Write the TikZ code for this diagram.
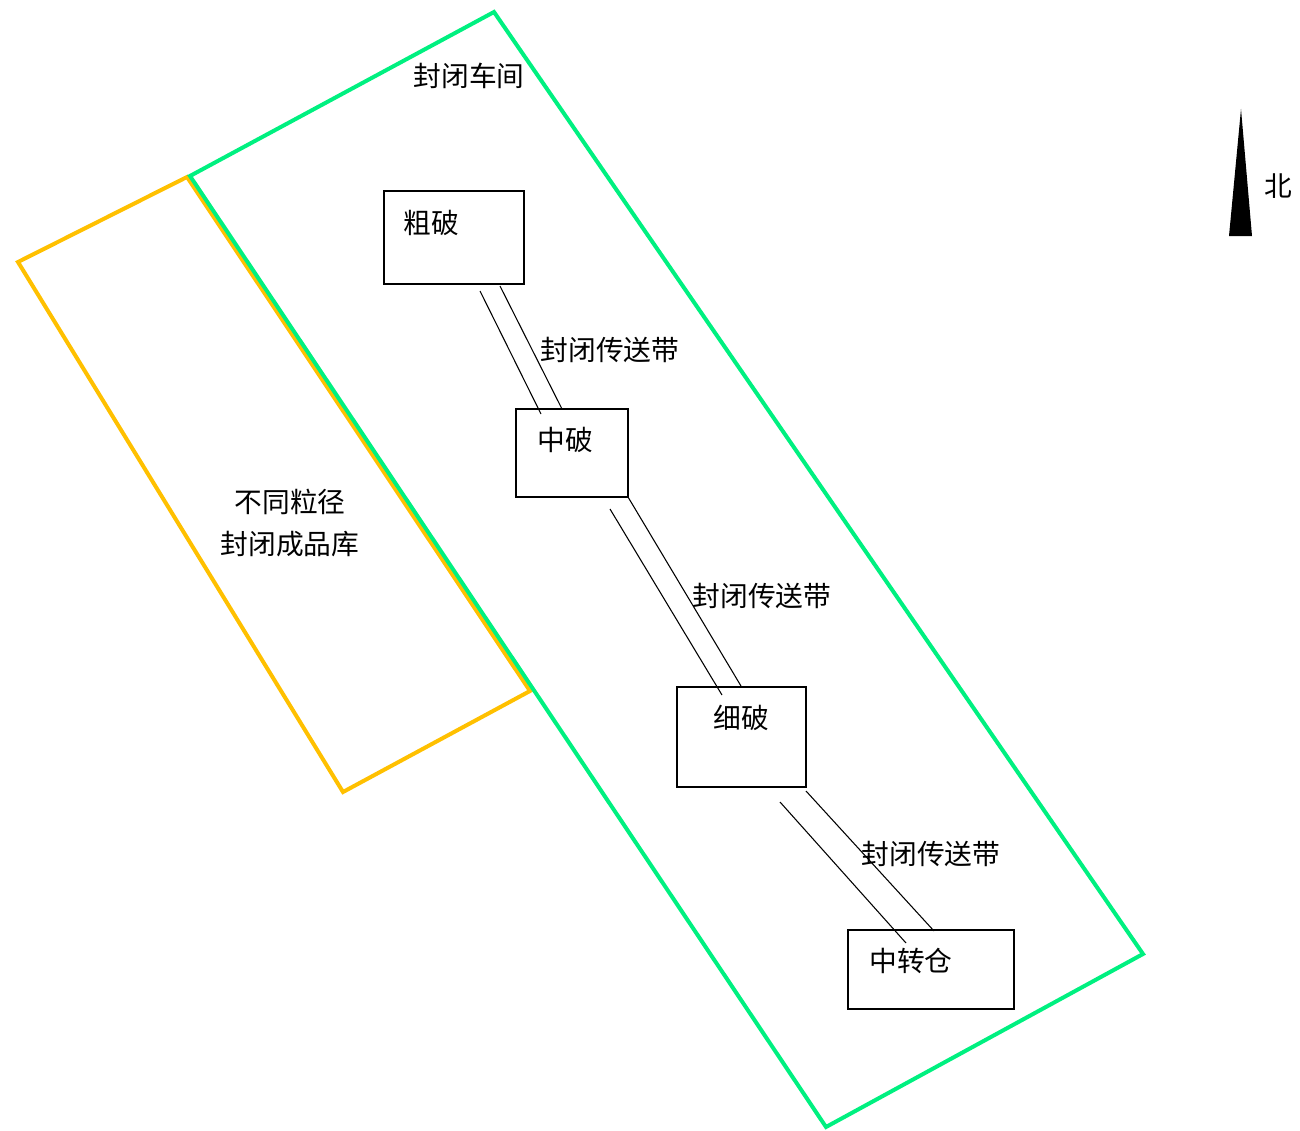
\documentclass[tikz,border=0pt]{standalone}
\usepackage{fontspec}
\newfontfamily\cjk{Noto Sans CJK SC}
\definecolor{wallgreen}{RGB}{0,240,128}
\definecolor{storeyellow}{RGB}{255,192,0}
\begin{document}
\begin{tikzpicture}[x=0.75pt,y=-0.75pt,
  lbl/.style={font=\cjk\fontsize{20.8}{32}\selectfont, inner sep=0pt},
  machine/.style={draw, line width=0.9pt, inner sep=0pt},
  belt/.style={line width=0.8pt},
  hall/.style={draw=wallgreen, line width=3pt, line join=miter},
  store/.style={draw=storeyellow, line width=3pt, line join=miter}]
\useasboundingbox (0,0) rectangle (1300,1131);

% finished-product store
\draw[store] (18,262) -- (187,177) -- (530,691) -- (343,792) -- cycle;
% enclosed workshop
\draw[hall] (494,12) -- (190,176) -- (826,1127) -- (1143,954) -- cycle;

% crushing stages
\node[machine, minimum width=105pt, minimum height=69.75pt] (cu) at (454,237.5) {};
\node[machine, minimum width=84pt, minimum height=66pt] (zh) at (572,453) {};
\node[machine, minimum width=96.75pt, minimum height=75pt] (xi) at (741.5,737) {};
\node[machine, minimum width=124.5pt, minimum height=59.25pt] (zz) at (931,969.5) {};

\node[lbl] at (431,223) {粗破};
\node[lbl] at (565,440) {中破};
\node[lbl] at (741,718) {细破};
\node[lbl] at (911,961) {中转仓};

% enclosed conveyors
\coordinate (b1a) at (480,291); \coordinate (b1b) at (541,414);
\coordinate (b1c) at (500,286); \coordinate (b1d) at (562,409);
\draw[belt] (b1a) -- (b1b);
\draw[belt] (b1c) -- (b1d);
\coordinate (b2a) at (610,509); \coordinate (b2b) at (722,695);
\coordinate (b2c) at (628,497); \coordinate (b2d) at (741,686);
\draw[belt] (b2a) -- (b2b);
\draw[belt] (b2c) -- (b2d);
\coordinate (b3a) at (780,802); \coordinate (b3b) at (906,943);
\coordinate (b3c) at (806,791); \coordinate (b3d) at (934,931);
\draw[belt] (b3a) -- (b3b);
\draw[belt] (b3c) -- (b3d);

\node[lbl] at (610,350) {封闭传送带};
\node[lbl] at (762,596) {封闭传送带};
\node[lbl] at (931,854) {封闭传送带};

\node[lbl] at (469,76) {封闭车间};
\node[lbl, align=center] at (290,523) {不同粒径\\封闭成品库};

% north arrow
\fill (1241,109) -- (1252,236) -- (1229,236) -- cycle;
\node[lbl] at (1278,186) {北};
\end{tikzpicture}
\end{document}
